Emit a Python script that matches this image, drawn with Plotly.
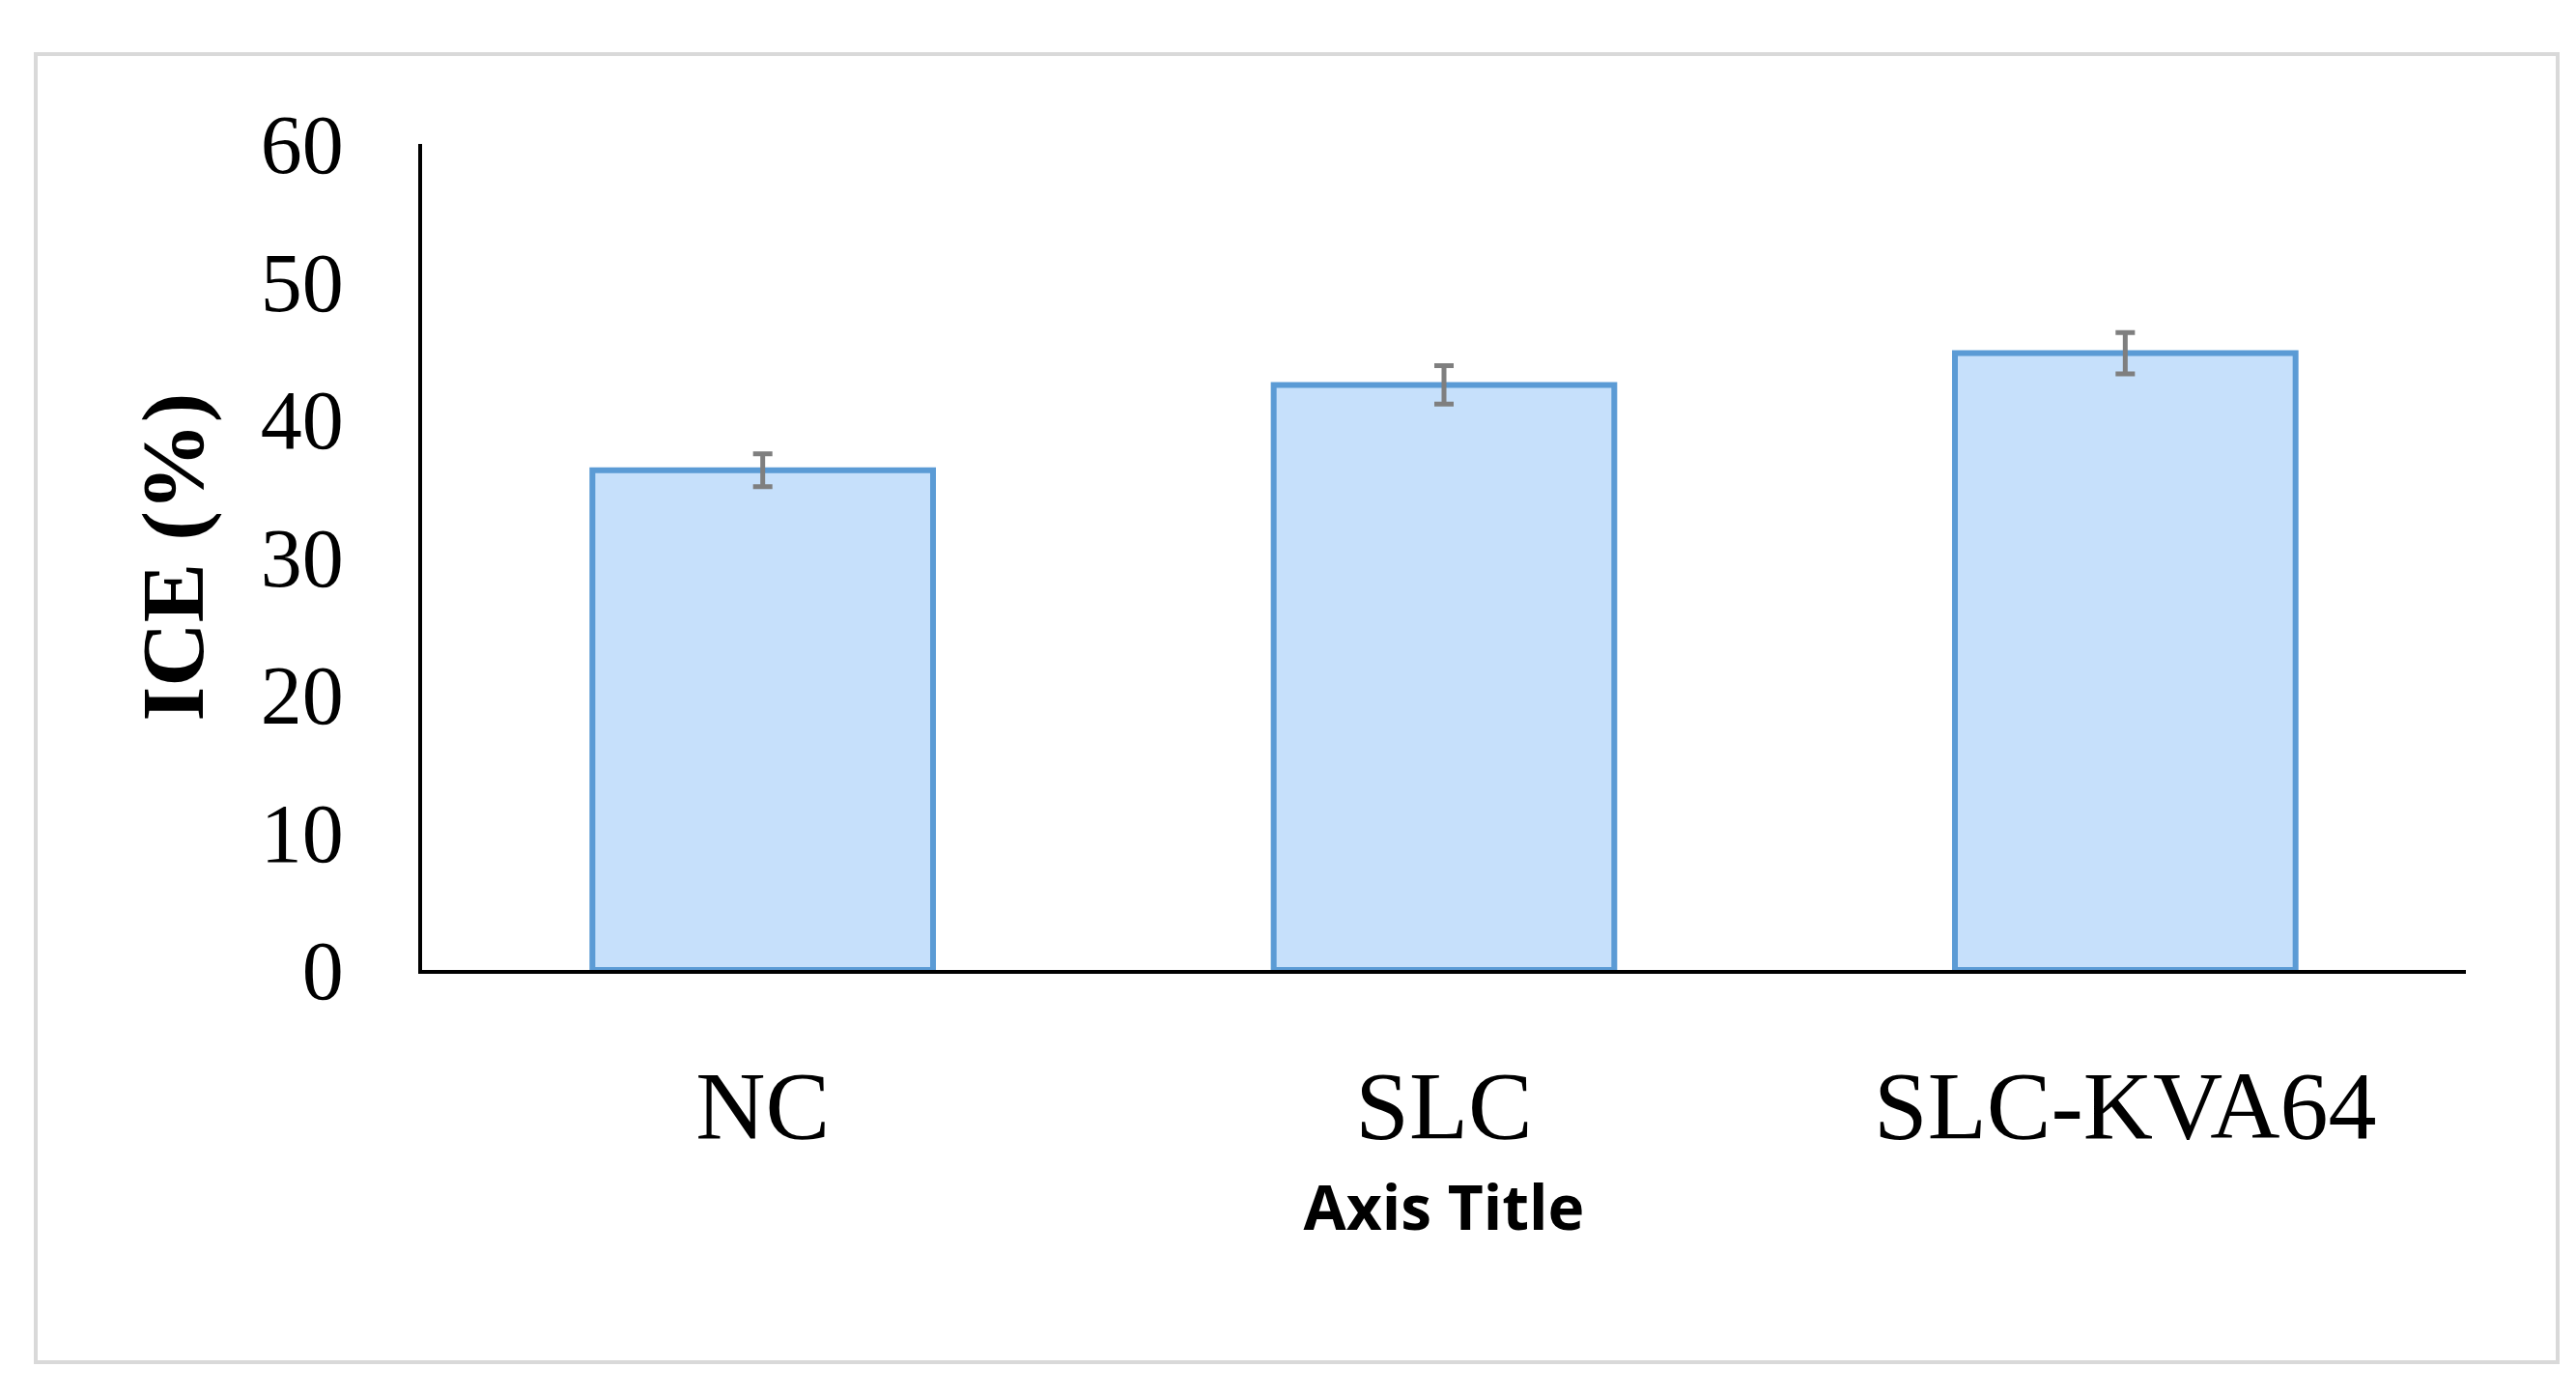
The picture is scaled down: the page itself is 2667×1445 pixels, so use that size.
import plotly.graph_objects as go

categories = ["NC", "SLC", "SLC-KVA64"]
values = [36.3, 42.5, 44.8]
errors = [1.2, 1.4, 1.5]

W, H = 2667, 1445
L, R, T, B = 429, 122, 141, 449
pw, ph = W - L - R, H - T - B

fig = go.Figure(go.Bar(
    x=categories, y=values, width=0.5,
    marker=dict(color="#c6e0fb", line=dict(color="#5b9bd5", width=6)),
    error_y=dict(type="data", array=errors, color="#7f7f7f", thickness=5, width=10),
))

fig.update_layout(
    width=W, height=H, margin=dict(l=L, r=R, t=T, b=B),
    paper_bgcolor="white", plot_bgcolor="white", showlegend=False,
    xaxis=dict(showline=True, linecolor="black", linewidth=4, ticks="",
               tickfont=dict(family="Liberation Serif", size=100, color="black"),
               ticklabelstandoff=50,
               title=dict(text="<b>Axis Title</b>", standoff=30,
                          font=dict(family="Open Sans", size=64, color="black"))),
    yaxis=dict(range=[0, 60], dtick=10, showline=True, linecolor="black", linewidth=4,
               showgrid=False, zeroline=False, ticks="",
               tickfont=dict(family="Liberation Serif", size=86, color="black"),
               ticklabelstandoff=60,
               title=dict(text="<b>ICE (%)</b>", standoff=30,
                          font=dict(family="Liberation Serif", size=92, color="black"))),
    shapes=[dict(type="rect", xref="paper", yref="paper",
                 x0=(29 - L) / pw, x1=(2640 - L) / pw,
                 y0=(H - B - 1402) / ph, y1=(H - B - 48) / ph,
                 line=dict(color="#d9d9d9", width=4), fillcolor="rgba(0,0,0,0)")],
)

fig.write_html("out.html")
